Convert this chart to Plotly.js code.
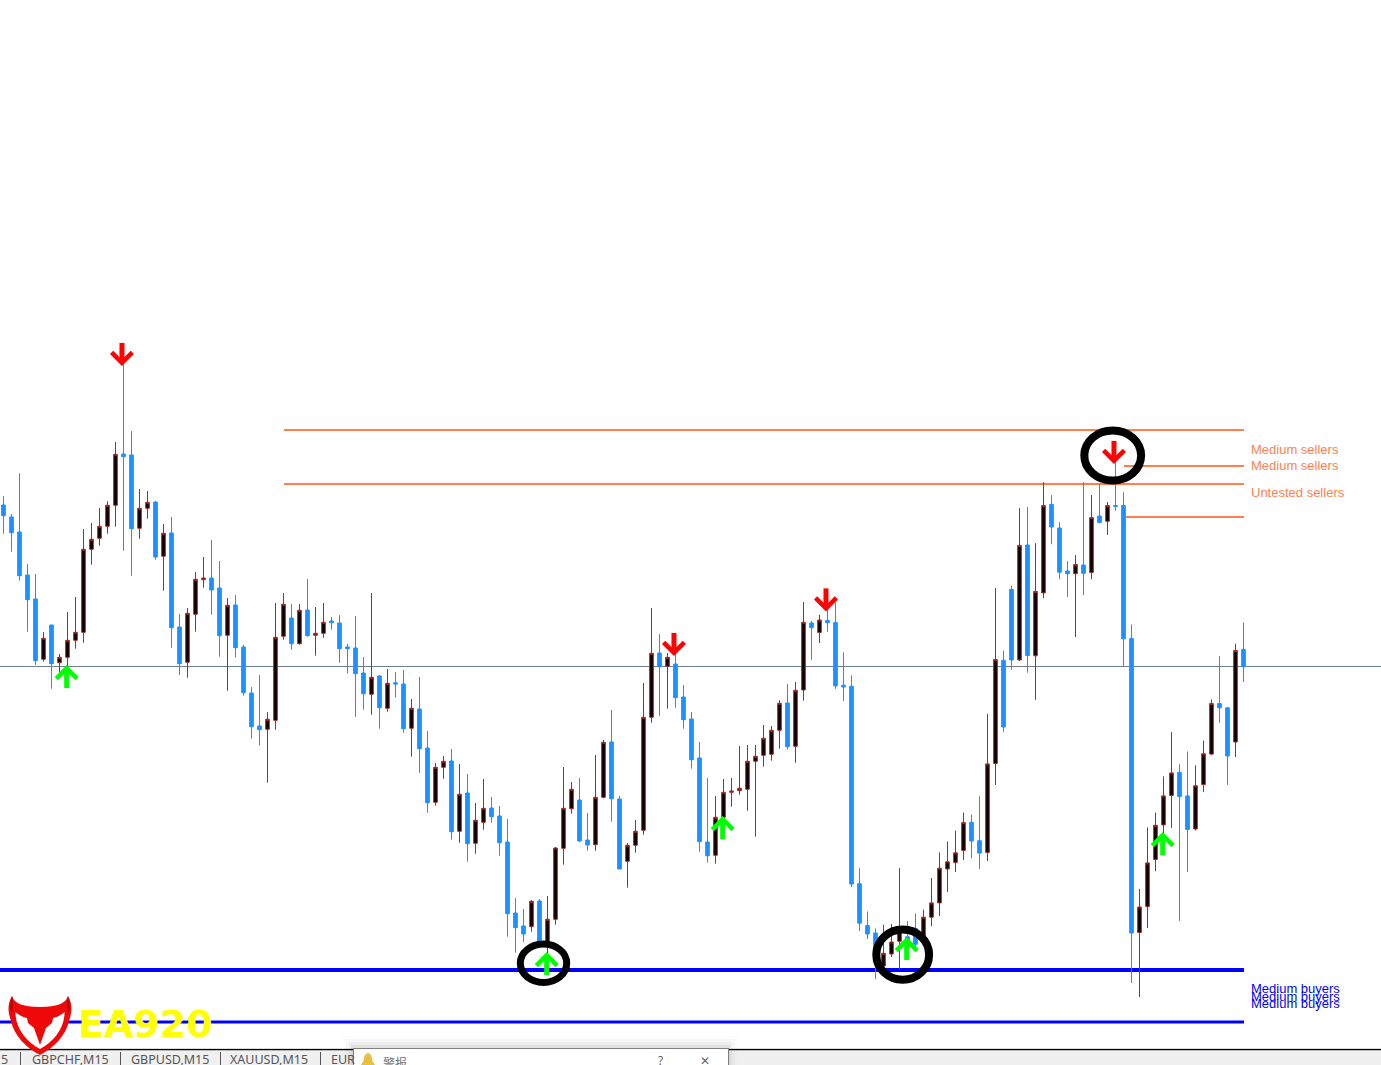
<!DOCTYPE html>
<html><head><meta charset="utf-8">
<script src="https://cdn.plot.ly/plotly-3.0.1.min.js"></script>
<style>html,body{margin:0;padding:0;background:#fff;overflow:hidden}#c{width:1381px;height:1065px}</style>
</head><body><div id="c"></div>
<script>
const bullish = [0,0,0,0,0,1,0,1,1,1,1,1,1,1,1,0,0,1,1,0,1,0,0,1,1,1,0,0,1,0,0,0,0,1,1,1,0,1,0,1,1,0,0,0,0,0,1,0,1,0,
0,1,0,0,1,1,0,1,0,1,1,0,0,0,0,0,1,0,1,1,1,1,0,0,1,1,0,0,1,1,1,1,0,1,0,0,0,0,0,1,1,1,1,1,1,1,1,1,0,1,
1,0,1,0,0,0,0,0,0,0,1,1,1,0,0,1,1,1,1,1,1,0,0,1,1,0,0,1,0,1,1,0,0,0,1,0,1,0,1,0,0,0,1,1,1,1,1,0,0,1,1,1,0,0,1,0];
const high = [569,551,591.7,501,491,433,440,411,453,468,536,542,557,563.7,623,703,634,576,574,564,541,548,451,457,493,508,525,504,467,470,420.3,378,390,353,462,472,461,461,486,458,462,448,450,421,449,408,472,390,396,393,
395,366,388,334,302,309,316,301,291,262,286,268,259,246,167,156,165,166,169,218,298,283,287,252,310,325,355,269,222,245,382,457,431,412,411.7,380,353,323,287,269,286,287,319,320,320,340,339,364.7,381,383,
463,444,450.3,456.7,462.7,412.6,389.6,196.8,153.5,136.5,140.3,141,196.8,144,151.6,155.4,187,212.6,223.5,234.5,252.5,250.6,268.7,351.2,477,414.5,479.3,556.9,558,521.8,582.9,570,543,503.8,509.8,582.9,570,581,562.9,603.6,572.7,440.5,176.1,237.5,252.5,288.7,332.8,300.7,313.5,299.6,324.5,365.5,408.8,357.2,421.3,442.7];
const bodyTop = [560,548,533,490,466,426.7,440,407.7,424.7,432.7,515.7,525.7,538.7,559.7,610.7,611,610,556.7,562.7,563,531.7,532,438,451.7,485.7,487,487,477,459.7,460,418,372,339,345.7,427.7,460.7,447,454.7,455,431.7,442.7,444,442,418,417,392,387.7,389,381.7,382.3,
381,356.7,356,317,297.7,303.7,304,270.7,272,244.7,256.7,257,249,223,152,139,163.7,164,145.7,217,256.7,275.7,265,225,267.7,322.7,323,266,219.7,233.7,347.7,411.7,412,407.7,401,368,346,307,223,247.7,272.7,274,276.7,303.7,308.7,326.7,334.7,361.7,362,374.7,
442.7,442,445,444.6,442.4,379.8,378.7,181.3,139.5,132,111.7,123,136.5,128.2,136.5,147.8,162.1,196.8,203.2,212.2,242.4,242.7,224.3,301.1,405.5,404.7,475.5,519.6,520,473.6,559.5,560.6,537,494,500.4,500,547.4,549,559.5,559.5,559.5,426.5,158,202.1,239.7,269.1,292.1,292.5,269.1,279.3,311.3,361.4,361.4,357.2,414.5,415.6];
const bodyBottom = [549.3,532.3,489.3,465.3,404.3,405.7,401.3,402.3,407.7,424.7,432.7,515.7,526.7,538.7,559.7,608.3,536.3,536.7,556.7,508,508.7,437.3,401.3,402.7,450.7,485.3,475,429.3,429.7,417.3,372.3,338.3,335.3,335.7,344.7,428.7,421.3,421.3,429.3,429.7,431.7,442.3,416.3,416.3,391.3,371.3,370.7,357.3,356.7,381,
336.3,336.7,316.3,262.3,262.7,297.7,233.3,233.7,221.3,221.7,242.7,248.3,222.3,151.3,137.3,131,138.3,121,122.3,145.7,216.7,256.3,224,220,220.3,267.7,266.3,196,203.7,219.7,234.7,347.7,398.3,398.7,367.3,345.3,305.3,223.3,209.3,209.7,247.7,272.7,274.3,275.7,303.7,309.7,310.7,334.7,318.3,318.7,
375,437.3,432.6,442.4,379.1,378,181,141.8,131,110.2,99,111,123.7,119.6,120.7,129,147.8,162.1,196,202.4,214.5,224,211.9,212.6,301.5,338,405.1,405.1,409.6,409.2,472.1,538,492.8,491.3,491.3,491.7,492.5,542.6,543.7,558.7,426.2,132,132.4,158.4,205.5,240.1,269.5,268.4,235.6,236,280.4,310.9,357.2,309,323,398.3];
const low = [531.3,513.3,484.3,433.3,400,403.3,376.3,390,396.7,416.3,422.3,500.3,519.3,531.3,538.3,514.3,489.3,526.3,546.3,505.3,474.3,417.3,390,387.3,433.3,477.3,450.3,408.3,374.3,407.3,369.3,326.3,319.3,282.3,335.3,425.3,415.3,420.3,428.3,409.3,427.3,435.3,402.3,391.3,348.3,355.3,350.3,336.3,353.3,367.3,
332.3,308.3,292.3,252.3,259.3,286.3,225.3,222.3,203.3,211.3,235.3,242.3,209.3,128.3,112.3,123,133.3,120,108.3,140.3,200.3,251.3,223,214.3,214.3,266.7,243.3,196,177.3,212.3,230.3,342.3,349.3,356.3,357.3,336.3,296.3,213.3,202.3,201.3,241.7,258.3,270.3,254.3,228.3,298.3,304.3,316.3,315.3,302.3,
364.3,405.3,422,433.3,376.1,364,178,134,126,85.7,93.2,108,95,114,117.7,123.3,138.8,149,173.1,193,205.1,206.6,196,204,280,333.1,395.3,404,392.3,365.2,466.8,520.7,485.7,468,428,469.9,485.7,541.8,530.1,554.2,398.3,82,68,137,193.8,228.8,237.1,144.1,193,234.5,272.9,309.8,342.2,280,308,383];
const open = bullish.map((b,i)=> b ? bodyBottom[i] : bodyTop[i]);
const close = bullish.map((b,i)=> b ? bodyTop[i] : bodyBottom[i]);
const bars = high.map((_,i)=>i);

const sellIdx = [14.81,83.81,102.81,138.81];
const sellLevel = [699,409,453.5,601];
const buyIdx = [7.9,67.9,89.9,112.9,144.9];
const buyLevel = [400,113,249,128,233];
const shaftOffset = 14;

const sellerLevels = [635,581,599,548];
const sellerStart = [35.06,35.06,140.06,140.3];
const buyerLevels = [95,43];
const buyerWidths = [4,3];
const priceLevel = 398.5;
const zoneEnd = 155.06;

const circleX0 = [64.6,109.1,135.1], circleX1 = [70.4,115.7,142.2];
const circleY0 = [82.5,85.2,584.5], circleY1 = [121,135.5,634.5];
const circleWidth = [7,8,8];

const sellerLabels = ["Medium sellers","Medium sellers","Untested sellers"];
const sellerLabelY = [449.5,465.5,492.5];
const buyerLabels = ["Medium buyers","Medium buyers","Medium buyers"];
const buyerLabelY = [988,996,1003];
const tabLabels = ["5","GBPCHF,M15","GBPUSD,M15","XAUUSD,M15","EUR"];
const tabX = [0,31,130,229,330];
const tabSeparators = [20,120,220,320];

const W=1381,H=1065;
const px=x=>x/W, py=y=>1-y/H;
const path=s=>s.replace(/(-?[\d.]+),(-?[\d.]+)/g,(m,a,b)=>px(+a)+','+py(+b));
const rect=(x0,y0,x1,y1,fill,extra)=>Object.assign({type:'rect',xref:'paper',yref:'paper',x0:px(x0),x1:px(x1),y0:py(y1),y1:py(y0),fillcolor:fill,line:{width:0},layer:'above'},extra||{});
const pshape=(d,fill)=>({type:'path',xref:'paper',yref:'paper',path:path(d),fillcolor:fill,line:{width:0},layer:'above'});

const shapes=[];
shapes.push({type:'line',xref:'paper',yref:'y',x0:0,x1:1,y0:priceLevel,y1:priceLevel,line:{color:'#708090',width:1},layer:'below'});
sellerLevels.forEach((l,i)=>shapes.push({type:'line',xref:'x',yref:'y',x0:sellerStart[i],x1:zoneEnd,y0:l,y1:l,line:{color:'#ff7f50',width:2},layer:'below'}));
buyerLevels.forEach((l,i)=>shapes.push({type:'line',xref:'x',yref:'y',x0:-0.4375,x1:zoneEnd,y0:l,y1:l,line:{color:'#0000ff',width:buyerWidths[i]},layer:'below'}));
circleX0.forEach((x,i)=>shapes.push({type:'circle',xref:'x',yref:'y',x0:x,x1:circleX1[i],y0:circleY0[i],y1:circleY1[i],line:{color:'#000',width:circleWidth[i]},fillcolor:'rgba(0,0,0,0)',layer:'above'}));
// tab bar
shapes.push(rect(0,1048,W,1049,'#dcdcdc'));
shapes.push(rect(0,1049,W,1050.5,'#000'));
shapes.push(rect(0,1050.5,W,1065,'#f0f0f0'));
tabSeparators.forEach(x=>shapes.push(rect(x,1052,x+1,1065,'#555')));
// dialog shadow and window
[[343,1036,738,1065,.012],[346,1039,735,1065,.02],[349,1042,732,1065,.03],[351,1045,730,1065,.05]].forEach(s=>shapes.push(rect(s[0],s[1],s[2],s[3],`rgba(0,0,0,${s[4]})`)));
shapes.push(rect(353,1048,729,1065,'#7f7f7f'));
shapes.push(rect(354,1049,728,1065,'#ffffff'));
shapes.push(pshape('M368,1053 C364,1054 364,1058 363.5,1061 L361,1065 L375,1065 L372.5,1061 C372,1058 372,1054 368,1053 Z','#e8c040'));
// logo
shapes.push(pshape('M12,996 C7,1005 8,1012 11,1021 C14,1035 26,1048 40,1055 C54,1048 66,1035 69,1021 C72,1012 73,1005 68,996 C66,1003 58,1007 40,1007 C22,1007 14,1003 12,996 Z','#ee0808'));
shapes.push(pshape('M15.5,1012 C20,1016 24,1017.5 27,1018 L28,1023 L34,1028 L40,1045 L46,1028 L52,1023 L53,1018 C56,1017.5 60,1016 64.5,1012 C65,1027 54,1042 40,1049 C26,1042 15,1027 15.5,1012 Z','#ffffff'));
shapes.push(pshape('M12,996 C10,1003 10,1008 11.5,1013 C14,1007 13,1002 12,996 Z','#b00000'));
shapes.push(pshape('M68,996 C70,1003 70,1008 68.5,1013 C66,1007 67,1002 68,996 Z','#b00000'));

const ann=[];
const label=(t,x,y,size,color,family,anchor)=>ann.push({text:t,xref:'paper',yref:'paper',x:px(x),y:py(y),xanchor:anchor||'left',yanchor:'middle',showarrow:false,borderpad:0,font:{size:size,color:color,family:family||'Liberation Sans, Arial, sans-serif'}});
sellerLabels.forEach((t,i)=>label(t,1250,sellerLabelY[i],13,'#ff7f50'));
buyerLabels.forEach((t,i)=>label(t,1250,buyerLabelY[i],13,'#0000ff'));
tabLabels.forEach((t,i)=>label(t,tabX[i],1059.5,12.5,'#555555','Noto Sans, Open Sans, sans-serif'));
label('<b>EA920</b>',77,1023.5,38,'#ffff00','DejaVu Sans, sans-serif');
label('警报',382,1062,12,'#777777','Noto Sans CJK SC, sans-serif');
label('?',657,1060,12,'#666666','Noto Sans, sans-serif');
label('✕',699,1061,12,'#666666','DejaVu Sans, sans-serif');
sellIdx.forEach((x,i)=>ann.push({x:x,y:sellLevel[i],xref:'x',yref:'y',text:'',showarrow:true,arrowhead:4,arrowsize:1,arrowwidth:4,arrowcolor:'#ff0000',ax:0,ay:-16,standoff:0}));
buyIdx.forEach((x,i)=>ann.push({x:x,y:buyLevel[i],xref:'x',yref:'y',text:'',showarrow:true,arrowhead:4,arrowsize:1,arrowwidth:4,arrowcolor:'#00ff00',ax:0,ay:16,standoff:0}));

const shaft=(xs,ys,color)=>({type:'scatter',mode:'markers',x:xs,y:ys,hoverinfo:'skip',showlegend:false,
  marker:{symbol:'line-ns',size:13,color:color,line:{color:color,width:5}}});

Plotly.newPlot('c',[{
  type:'candlestick',x:bars,open:open,high:high,low:low,close:close,
  increasing:{line:{color:'#a52a2a',width:1},fillcolor:'#000000'},
  decreasing:{line:{color:'#1e90ff',width:1},fillcolor:'#1e90ff'},
  whiskerwidth:0,hoverinfo:'skip',showlegend:false
},
shaft(sellIdx,sellLevel.map(v=>v+shaftOffset),'#ff0000'),
shaft(buyIdx,buyLevel.map(v=>v-shaftOffset),'#00ff00')
],{
  width:W,height:H,margin:{l:0,r:0,t:0,b:0,pad:0},paper_bgcolor:'#fff',plot_bgcolor:'#fff',showlegend:false,
  boxgap:0.35,
  xaxis:{type:'linear',range:[-0.4375,172.1875],visible:false,rangeslider:{visible:false},showgrid:false,zeroline:false,fixedrange:true},
  yaxis:{range:[0,1065],visible:false,showgrid:false,zeroline:false,fixedrange:true},
  shapes:shapes,annotations:ann
},{displayModeBar:false,staticPlot:true});
</script></body></html>
